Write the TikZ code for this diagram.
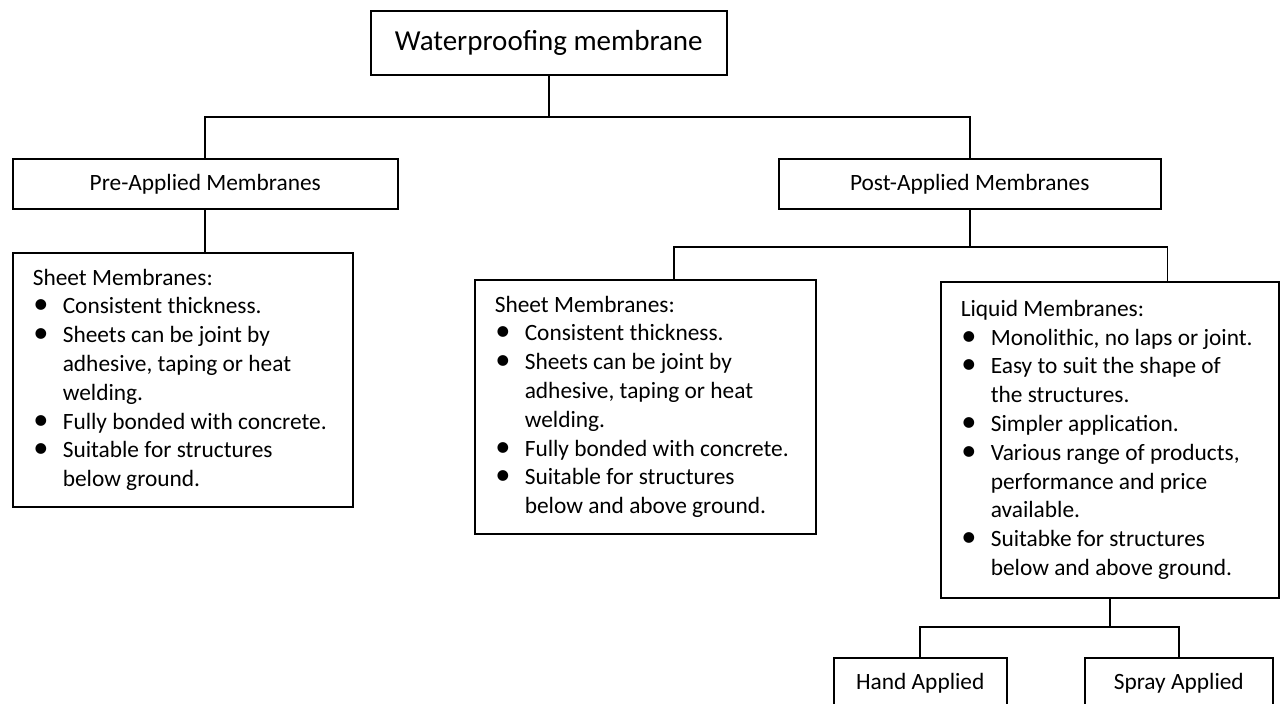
\documentclass[tikz,border=0pt]{standalone}
\usepackage{fontspec}
\setmainfont{Carlito}
\usetikzlibrary{positioning,calc}
\newlength{\bulind}
\setlength{\bulind}{0.6cm}
\newcommand{\itm}{\makebox[\bulind][l]{\hspace{0.01cm}\scalebox{1.3}{\textbullet}}}
\newcommand{\cont}{\hspace*{\bulind}}

\begin{document}
\begin{tikzpicture}[x=0.02cm,y=-0.02cm,line width=0.9pt,
  box/.style={draw,anchor=north west,inner sep=0pt,font=\fontsize{13.3}{16.4}\selectfont},
  listbox/.style={box,align=flush left,inner xsep=0.4cm,text width=#1}]
  \useasboundingbox (0,0) rectangle (1287,703);
  \clip (0,0) rectangle (1287,703);

  % Boxes
  \node[box,minimum width=7.12cm,minimum height=1.28cm,font=\fontsize{16.5}{20}\selectfont]
    (top) at (370,10) {Waterproofing membrane};
  \node[box,minimum width=7.7cm,minimum height=1cm] (pre) at (12,158) {Pre-Applied Membranes};
  \node[box,minimum width=7.64cm,minimum height=1cm] (post) at (778,158) {Post-Applied Membranes};

  \node[listbox=6cm,minimum height=5.08cm] (sheetA) at (12,252) {Sheet Membranes:\\
    \itm Consistent thickness.\\
    \itm Sheets can be joint by\\
    \cont adhesive, taping or heat\\
    \cont welding.\\
    \itm Fully bonded with concrete.\\
    \itm Suitable for structures\\
    \cont below ground.};
  \node[listbox=6.02cm,minimum height=5.08cm] (sheetB) at (474,279) {Sheet Membranes:\\
    \itm Consistent thickness.\\
    \itm Sheets can be joint by\\
    \cont adhesive, taping or heat\\
    \cont welding.\\
    \itm Fully bonded with concrete.\\
    \itm Suitable for structures\\
    \cont below and above ground.};
  \node[listbox=5.96cm,minimum height=6.32cm] (liquid) at (940,281) {Liquid Membranes:\\
    \itm Monolithic, no laps or joint.\\
    \itm Easy to suit the shape of\\
    \cont the structures.\\
    \itm Simpler application.\\
    \itm Various range of products,\\
    \cont performance and price\\
    \cont available.\\
    \itm Suitabke for structures\\
    \cont below and above ground.};

  \node[box,minimum width=3.46cm,minimum height=1cm] (hand) at (833,657) {Hand Applied};
  \node[box,minimum width=3.76cm,minimum height=1cm] (spray) at (1084,657) {Spray Applied};

  % Connectors
  \coordinate (busA) at (0,117);
  \draw (top.south) -- (top.south |- busA);
  \draw (pre.north) |- (post.north |- busA) -- (post.north);
  \draw (pre.south) -- (pre.south |- sheetA.north);

  \coordinate (busB) at (0,247);
  \coordinate (dropB) at ($(sheetB.north west)!0.584!(sheetB.north east)$);
  \coordinate (dropC) at ($(liquid.north west)!0.67!(liquid.north east)$);
  \draw (post.south) -- (post.south |- busB);
  \draw (dropB) |- (dropC |- busB) -- (dropC);

  \coordinate (busC) at (0,627);
  \draw (liquid.south) -- (liquid.south |- busC);
  \draw (hand.north) |- (spray.north |- busC) -- (spray.north);
\end{tikzpicture}
\end{document}
